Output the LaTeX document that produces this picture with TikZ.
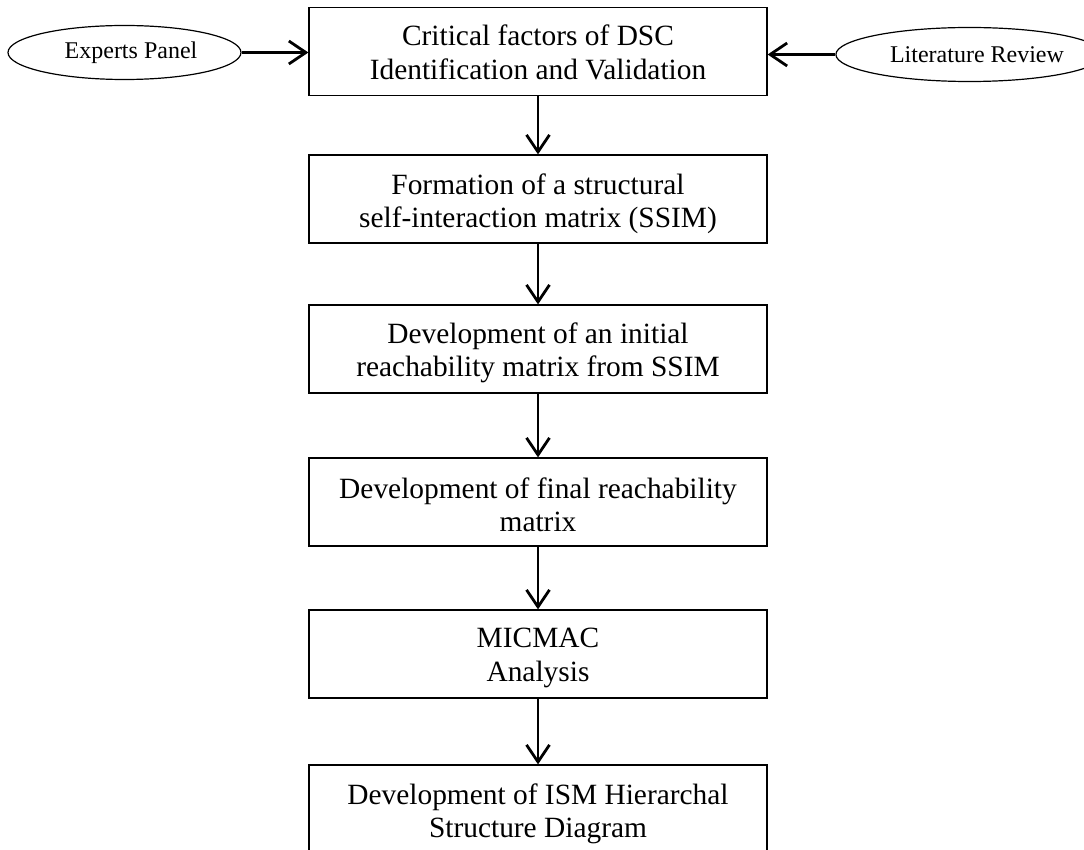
\documentclass[tikz,border=0pt]{standalone}
\usepackage{fontspec}
\setmainfont{Liberation Serif}
\usetikzlibrary{arrows.meta,shapes.geometric}
\tikzset{
  stepbox/.style={draw=black, line width=1.3pt, rectangle, minimum width=458pt, minimum height=88pt, inner sep=0pt},
  boxtext/.style={anchor=north, inner sep=0pt, align=center, font=\fontsize{29.4}{33.5}\selectfont},
  source/.style={draw=black, line width=1.2pt, ellipse, inner sep=0pt, minimum height=54pt, font=\fontsize{24}{26}\selectfont},
  flow/.style={-{Straight Barb[length=17pt,width=23pt]}, line width=2.8pt}
}
\begin{document}
\begin{tikzpicture}[x=1pt,y=-1pt]
\useasboundingbox[fill=white] (0,0) rectangle (1084,850);
% boxes
\node[stepbox] (b1) at (538,51.5) {};
\node[stepbox] (b2) at (538,199) {};
\node[stepbox] (b3) at (538,349) {};
\node[stepbox] (b4) at (538,502) {};
\node[stepbox] (b5) at (538,654) {};
\node[stepbox] (b6) at (538,809) {};
% texts
\node[boxtext] (t1) at ([yshift=-18pt]b1.north) {Critical factors of DSC\\Identification and Validation};
\node[boxtext] (t2) at ([yshift=-19pt]b2.north) {Formation of a structural\\self-interaction matrix (SSIM)};
\node[boxtext] (t3) at ([yshift=-18pt]b3.north) {Development of an initial\\reachability matrix from SSIM};
\node[boxtext] (t4) at ([yshift=-20pt]b4.north) {Development of final reachability\\matrix};
\node[boxtext] (t5) at ([yshift=-18.5pt]b5.north) {MICMAC\\Analysis};
\node[boxtext] (t6) at ([yshift=-19pt]b6.north) {Development of ISM Hierarchal\\Structure Diagram};
% ellipses
\node[source, minimum width=233pt] (e1) at (124.5,52.5) {\hspace*{13pt}Experts Panel};
\node[source, minimum width=227pt] (e2) at (969.5,54.5) {\hspace*{15pt}Literature Review};
% connectors
\draw[flow] (e1.east) -- (e1.east -| b1.west);
\draw[flow] (e2.west) -- (e2.west -| b1.east);
\draw[flow] (b1.south) -- (b2.north);
\draw[flow] (b2.south) -- (b3.north);
\draw[flow] (b3.south) -- (b4.north);
\draw[flow] (b4.south) -- (b5.north);
\draw[flow] (b5.south) -- (b6.north);
\end{tikzpicture}
\end{document}
